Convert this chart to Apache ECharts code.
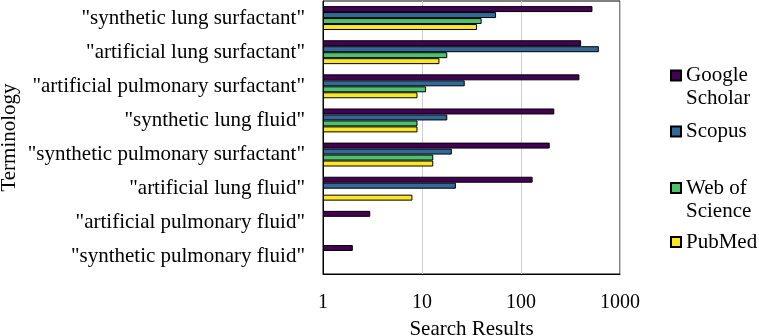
<!DOCTYPE html>
<html>
<head>
<meta charset="utf-8">
<script src="https://cdn.jsdelivr.net/npm/echarts@6/dist/echarts.min.js"></script>
<style>html,body{margin:0;padding:0;background:#fff}#c{width:759px;height:336px}</style>
</head>
<body>
<div id="c"></div>
<script>
const categories = ['"synthetic lung surfactant"', '"artificial lung surfactant"', '"artificial pulmonary surfactant"', '"synthetic lung fluid"', '"synthetic pulmonary surfactant"', '"artificial lung fluid"', '"artificial pulmonary fluid"', '"synthetic pulmonary fluid"'];
const seriesNames = ['Google Scholar', 'Scopus', 'Web of Science', 'PubMed'];
const googleScholar = [527, 405, 389, 217, 195, 131, 3, 2];
const scopus = [56, 611, 27, 18, 20, 22, null, null];
const webOfScience = [40, 18, 11, 9, 13, null, null, null];
const pubMed = [36, 15, 9, 9, 13, 8, null, null];
const xTicks = [1, 10, 100, 1000];

const colors = ['#440154', '#33689a', '#4cc16e', '#fde725'];
const legendLines = {'Google Scholar': [' ', 'Google', 'Scholar'], 'Scopus': ['Scopus'], 'Web of Science': [' ', 'Web of', 'Science'], 'PubMed': ['PubMed']};
const legendTops = [41, 120, 153.5, 230.5];
const font = "'Liberation Serif', 'Times New Roman', serif";
const values = [googleScholar, scopus, webOfScience, pubMed];

const chart = echarts.init(document.getElementById('c'), null, {renderer: 'canvas'});
chart.setOption({
  animation: false,
  backgroundColor: '#fff',
  textStyle: {fontFamily: font, color: '#000'},
  grid: {left: 323, right: 139, top: 1, bottom: 62, show: true, borderColor: '#000', borderWidth: 1, containLabel: false, outerBoundsMode: 'none'},
  legend: seriesNames.map((n, i) => ({
    data: [n], orient: 'vertical', left: 670, top: legendTops[i], padding: 0,
    itemWidth: 10, itemHeight: 10, itemGap: 0, icon: 'rect',
    formatter: (name) => legendLines[name].join('\n'),
    textStyle: {fontFamily: font, fontSize: 21, color: '#000', lineHeight: 23},
    selectedMode: false
  })),
  xAxis: {
    type: 'log', logBase: 10, min: 1, max: 1000,
    name: 'Search Results', nameLocation: 'middle', nameGap: 45,
    nameTextStyle: {fontFamily: font, fontSize: 21, color: '#000'},
    axisLine: {show: true, lineStyle: {color: '#000', width: 1}},
    axisTick: {show: false},
    axisLabel: {fontFamily: font, fontSize: 20, color: '#000', margin: 19,
      formatter: (v) => xTicks.indexOf(Math.round(v)) >= 0 ? String(Math.round(v)) : ''},
    splitLine: {show: true, lineStyle: {color: '#cfcfcf', width: 1}}
  },
  yAxis: {
    type: 'category', data: categories, inverse: true,
    name: 'Terminology', nameLocation: 'middle', nameGap: 303, nameRotate: 90,
    nameTextStyle: {fontFamily: font, fontSize: 21, color: '#000'},
    axisLine: {show: true, lineStyle: {color: '#000', width: 1}},
    axisTick: {show: false},
    axisLabel: {fontFamily: font, fontSize: 21, color: '#000', margin: 18},
    splitLine: {show: false}
  },
  series: seriesNames.map((n, i) => ({
    name: n, type: 'bar', data: values[i],
    barCategoryGap: '30%', barGap: '0%',
    itemStyle: {color: colors[i], borderColor: '#000', borderWidth: 1}
  }))
});
</script>
</body>
</html>
